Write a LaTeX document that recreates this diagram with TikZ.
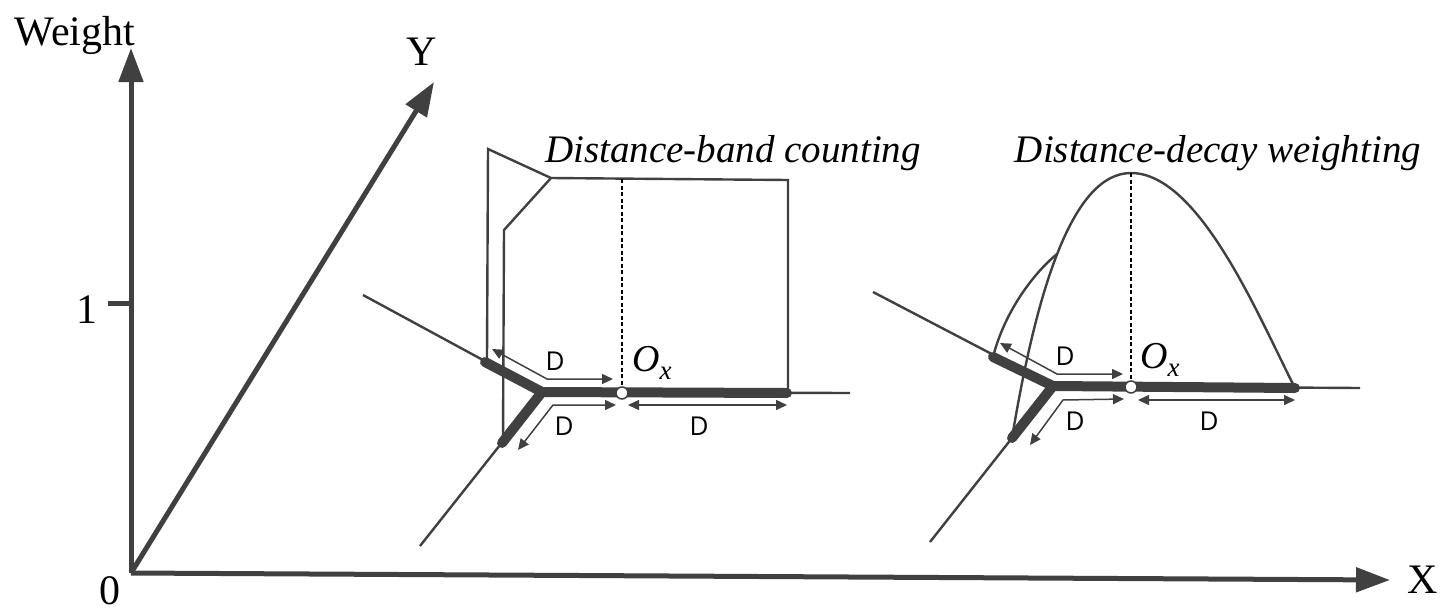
\documentclass[tikz,border=0pt]{standalone}
\usepackage{fontspec}
\setmainfont{Liberation Serif}
\newfontfamily\dfont{Open Sans}
\usetikzlibrary{arrows.meta}
\definecolor{dg}{HTML}{404040}
\begin{document}
\begin{tikzpicture}[x=1pt,y=-1pt,
 axis/.style={draw=dg, line width=5pt, -{Triangle[length=34pt,width=24pt]}},
 net/.style={draw=dg, line width=2.4pt},
 heavy/.style={draw=dg, line width=10pt, line cap=round, line join=round},
 outl/.style={draw=dg, line width=2.4pt, line join=miter},
 dim/.style={draw=dg, line width=1.5pt, {Triangle[length=11pt,width=10pt]}-{Triangle[length=11pt,width=10pt]}},
 lab/.style={font=\fontsize{42}{42}\selectfont, inner sep=0pt, anchor=base},
 dlab/.style={font=\dfont\fontsize{26}{26}\selectfont, inner sep=0pt},
 ttl/.style={font=\fontsize{39}{39}\selectfont\itshape, inner sep=0pt, anchor=base},
 oxlab/.style={font=\fontsize{38}{38}\selectfont\itshape, inner sep=0pt, anchor=base west},
 dots/.style={draw=black, line width=2pt, dash pattern=on 4pt off 2.5pt},
 ring/.style={circle, draw=dg, fill=white, line width=1.5pt, minimum size=12pt, inner sep=0pt}
]
\useasboundingbox (0,0) rectangle (1452,614);
% ---------- axes ----------
\coordinate (O) at (131,573);
\coordinate (Wt) at (131,48);
\coordinate (Yt) at (434,82);
\coordinate (Xt) at (1390,580);
\coordinate (tk) at (108,303);
\coordinate (tka) at (131,303);
\draw[axis] (O) -- (Wt);
\draw[axis] (O) -- (Yt);
\draw[axis] (O) -- (Xt);
\draw[draw=dg, line width=5pt] (tk) -- (tka);
\node[lab] (wlab) at (75,45) {Weight};
\node[lab] (ylab) at (422,65) {Y};
\node[lab] (xlab) at (1423,593) {X};
\node[lab] (zlab) at (110,604) {0};
\node[lab] (olab) at (87,323) {1};
% ---------- left panel ----------
\coordinate (La) at (363,295);
\coordinate (Lb) at (485,362);
\coordinate (LJ) at (542,392);
\coordinate (Lc) at (787,393);
\coordinate (Ld) at (850,393);
\coordinate (Le) at (502,443);
\coordinate (Lf) at (420,546);
\coordinate (LOx) at (622,393);
\coordinate (Ltop) at (622,179);
\draw[net] (La) -- (LJ) -- (Ld);
\draw[net] (LJ) -- (Lf);
\draw[heavy] (Lb) -- (LJ) -- (Lc);
\draw[heavy] (LJ) -- (Le);
\coordinate (Ls1) at (487,358);
\coordinate (Ls2) at (488,149);
\coordinate (Ls3) at (551,178);
\coordinate (Ls4) at (788,180);
\coordinate (Ls5) at (788,393);
\coordinate (Ls6) at (504,230);
\coordinate (Ls7) at (503,440);
\draw[outl] (Ls1) -- (Ls2) -- (Ls3) -- (Ls4) -- (Ls5);
\draw[outl] (Ls3) -- (Ls6) -- (Ls7);
\draw[dots] (Ltop) -- (LOx);
\node[ring] (Lring) at (LOx) {};
\coordinate (La1) at (492,349);
\coordinate (La2) at (547,379);
\coordinate (La3) at (613,379);
\coordinate (Lb1) at (616,405);
\coordinate (Lb2) at (553,405);
\coordinate (Lb3) at (518,450);
\coordinate (Lc1) at (628,405);
\coordinate (Lc2) at (787,405);
\draw[dim] (La1) -- (La2) -- (La3);
\draw[dim] (Lb1) -- (Lb2) -- (Lb3);
\draw[dim] (Lc1) -- (Lc2);
\node[dlab] (LD1) at (555,361) {D};
\node[dlab] (LD2) at (564,426) {D};
\node[dlab] (LD3) at (699,426) {D};
\node[oxlab] (LOxl) at (632,371) {O\raisebox{-8pt}{\fontsize{27}{27}\selectfont x}};
\node[ttl] (Lttl) at (733,162) {Distance-band counting};
% ---------- right panel ----------
\coordinate (Ra) at (873,292);
\coordinate (Rb) at (993,357);
\coordinate (RJ) at (1053,386);
\coordinate (Rc) at (1295,388);
\coordinate (Rd) at (1360,388);
\coordinate (Re) at (1012,438);
\coordinate (Rf) at (930,542);
\coordinate (ROx) at (1131,387);
\coordinate (Rtop) at (1131,173);
\draw[net] (Ra) -- (RJ) -- (Rd);
\draw[net] (RJ) -- (Rf);
\draw[heavy] (Rb) -- (RJ) -- (Rc);
\draw[heavy] (RJ) -- (Re);
\draw[outl] (Re) .. controls (1035,300) and (1070,173) .. (Rtop)
  .. controls (1200,173) and (1260,320) .. (Rc);
\coordinate (Rk) at (1057,254);
\draw[outl] (Rk) .. controls (1035,272) and (1005,310) .. (Rb);
\draw[dots] (Rtop) -- (ROx);
\node[ring] (Rring) at (ROx) {};
\coordinate (Ra1) at (1000,343);
\coordinate (Ra2) at (1057,374);
\coordinate (Ra3) at (1123,374);
\coordinate (Rb1) at (1124,399);
\coordinate (Rb2) at (1063,400);
\coordinate (Rb3) at (1030,445);
\coordinate (Rc1) at (1138,400);
\coordinate (Rc2) at (1295,400);
\draw[dim] (Ra1) -- (Ra2) -- (Ra3);
\draw[dim] (Rb1) -- (Rb2) -- (Rb3);
\draw[dim] (Rc1) -- (Rc2);
\node[dlab] (RD1) at (1065,356) {D};
\node[dlab] (RD2) at (1075,421) {D};
\node[dlab] (RD3) at (1209,421) {D};
\node[oxlab] (ROxl) at (1140,368) {O\raisebox{-8pt}{\fontsize{27}{27}\selectfont x}};
\node[ttl] (Rttl) at (1218,162) {Distance-decay weighting};
\end{tikzpicture}
\end{document}
